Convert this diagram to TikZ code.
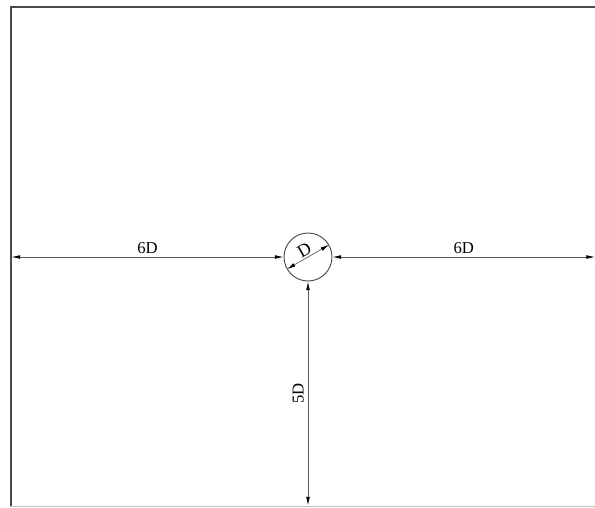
\documentclass[tikz,border=0pt]{standalone}
\usepackage{fontspec}
\setmainfont{Liberation Serif}
\usetikzlibrary{positioning,arrows.meta,calc}
\tikzset{
  >={Latex[length=6.5pt,width=2.8pt]},
  dim/.style={draw=black!65,line width=0.5pt,{Latex[length=6.5pt,width=2.8pt,black]}-{Latex[length=6.5pt,width=2.8pt,black]}},
  wall/.style={draw=black!70,line width=1.5pt},
  cyl/.style={circle,draw=black!70,line width=0.7pt,minimum size=36pt,inner sep=0pt},
  lb/.style={font=\fontsize{12.5}{14}\selectfont,inner sep=1pt}
}

\begin{document}
\begin{tikzpicture}[x=0.75pt,y=-0.75pt]
  \useasboundingbox (0,0) rectangle (595,507);
  % ---- domain walls ----
  \coordinate (tl) at (11,7);
  \coordinate (tr) at (595,7);
  \coordinate (bl) at (11,507);
  \draw[wall] (tr) -- (tl) -- (bl);
  \draw[black!25,line width=0.6pt] (10,506) -- (595,506);

  % ---- cylinder ----
  \node[cyl] (c) at (308,257) {};

  % ---- dimensions ----
  \coordinate (lw) at (11.5,257);
  \coordinate (rw) at (595,257);
  \coordinate (bw) at (308,505.5);
  \draw[dim] (lw) -- node[above,lb,yshift=1pt]{6D} (c.west);
  \draw[dim] (c.east) -- node[above,lb,yshift=1pt]{6D} (rw);
  \draw[dim] (c.south) -- node[pos=0.5,lb,rotate=90,anchor=south,yshift=2pt]{5D} (bw);
  \draw[dim] (c.210) -- node[above,lb,sloped,inner sep=1pt,font=\fontsize{13.5}{15}\selectfont]{D} (c.30);
\end{tikzpicture}
\end{document}
